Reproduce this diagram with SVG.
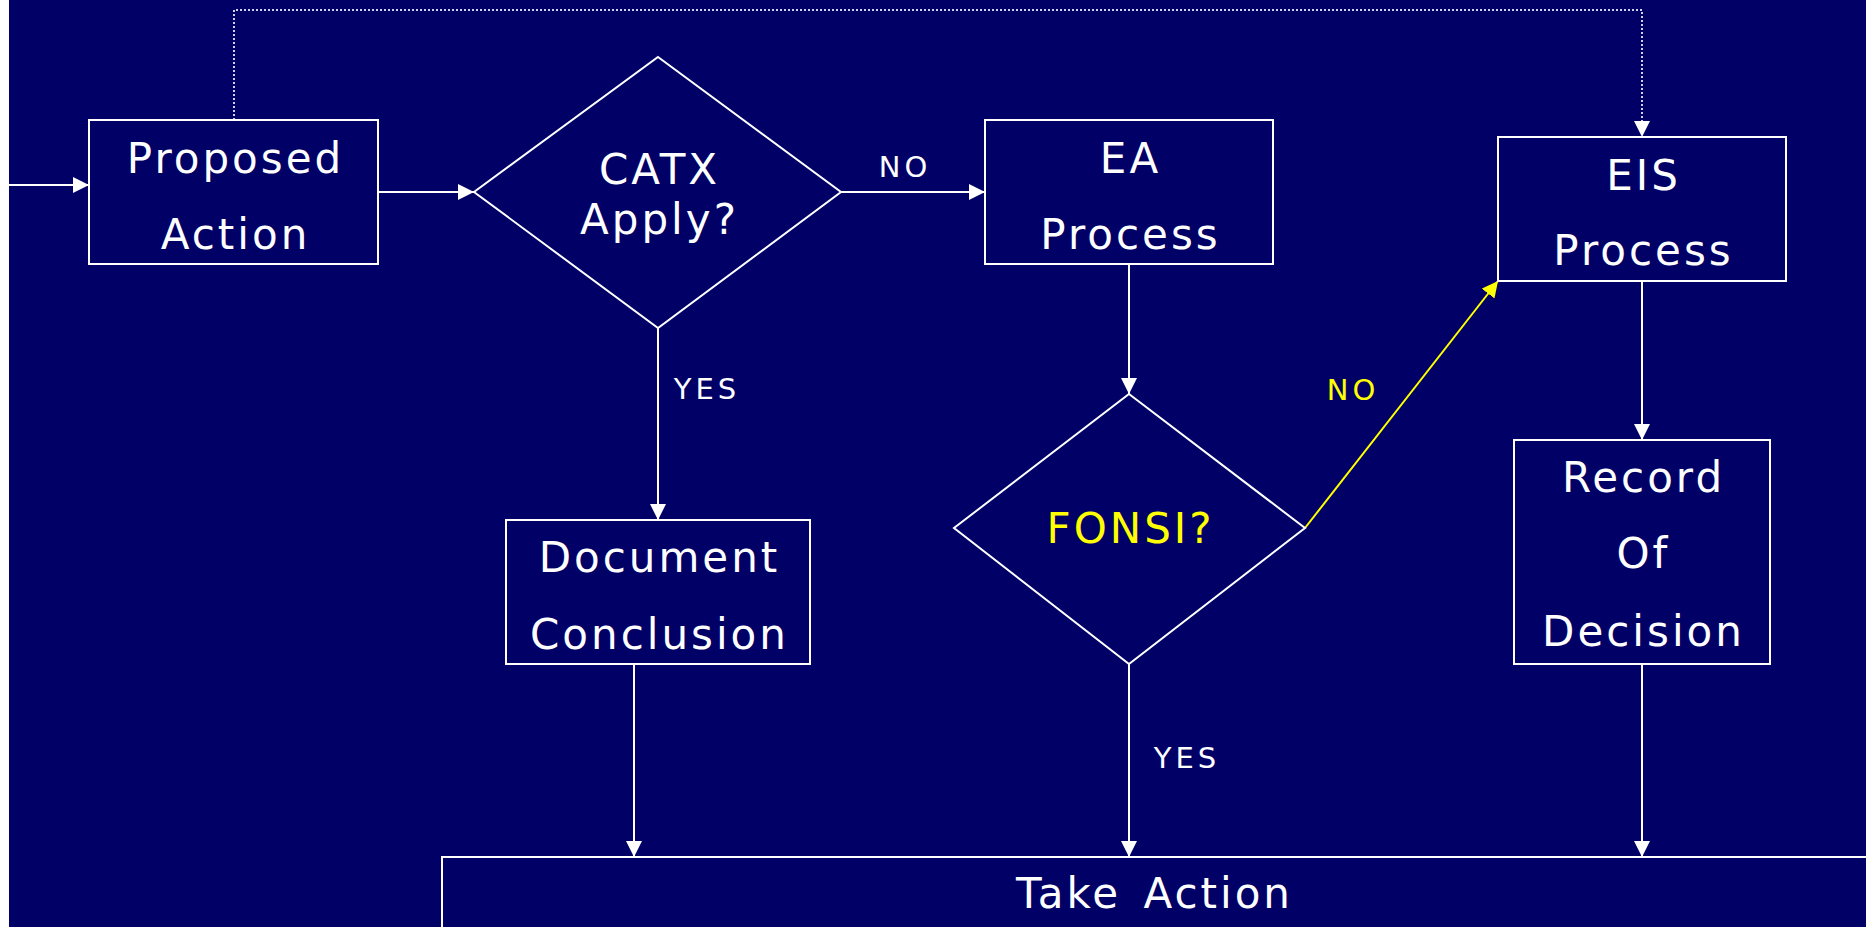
<svg xmlns="http://www.w3.org/2000/svg" width="1866" height="927" viewBox="0 0 1866 927">
<defs>
<style>
.box{fill:none;stroke:#fff;stroke-width:2}
.t{font-family:"DejaVu Sans",Verdana,sans-serif;font-size:42px;fill:#fff;text-anchor:middle;dominant-baseline:central;letter-spacing:3px;word-spacing:6px}
.lb{font-family:"DejaVu Sans",Verdana,sans-serif;font-size:29px;fill:#fff;text-anchor:middle;dominant-baseline:central;letter-spacing:4px}
.y{fill:#ffff00}
.c{fill:none;stroke:#fff;stroke-width:2}
</style>
<marker id="aw" markerUnits="userSpaceOnUse" markerWidth="18" markerHeight="16" refX="16" refY="8" orient="auto">
<path d="M0,0 L16,8 L0,16 Z" fill="#fff"/>
</marker>
<marker id="ay" markerUnits="userSpaceOnUse" markerWidth="18" markerHeight="16" refX="16" refY="8" orient="auto">
<path d="M0,0 L16,8 L0,16 Z" fill="#ffff00"/>
</marker>
</defs>
<rect x="0" y="0" width="1866" height="927" fill="#000066"/>
<rect x="0" y="0" width="9" height="927" fill="#fff"/>

<g id="connectors">
<path class="c" d="M9,185 L89,185" marker-end="url(#aw)"/>
<path class="c" d="M378,192 L474,192" marker-end="url(#aw)"/>
<path class="c" d="M841,192 L985,192" marker-end="url(#aw)"/>
<path class="c" d="M658,328 L658,520" marker-end="url(#aw)"/>
<path class="c" d="M1129,264 L1129,394" marker-end="url(#aw)"/>
<path fill="none" stroke="#ffff00" stroke-width="2" d="M1305,528 L1498,281" marker-end="url(#ay)"/>
<path class="c" d="M1642,281 L1642,440" marker-end="url(#aw)"/>
<path class="c" d="M634,664 L634,857" marker-end="url(#aw)"/>
<path class="c" d="M1129,664 L1129,857" marker-end="url(#aw)"/>
<path class="c" d="M1642,664 L1642,857" marker-end="url(#aw)"/>
<path fill="none" stroke="#d0d0e8" stroke-width="2" stroke-dasharray="2,2" d="M234,120 L234,10 L1642,10 L1642,137" marker-end="url(#aw)"/>
<text class="lb" x="905" y="167">NO</text>
<text class="lb" x="707" y="389">YES</text>
<text class="lb y" x="1353" y="390">NO</text>
<text class="lb" x="1187" y="758">YES</text>
</g>

<g id="proposed-action">
<rect class="box" x="89" y="120" width="289" height="144"/>
<text class="t" x="235.5" y="158">Proposed</text>
<text class="t" x="235.5" y="234">Action</text>
</g>
<g id="catx">
<path class="box" d="M658,57 L841,192 L658,328 L474,192 Z"/>
<text class="t" x="659.5" y="169">CATX</text>
<text class="t" x="659.5" y="219">Apply?</text>
</g>
<g id="ea-process">
<rect class="box" x="985" y="120" width="288" height="144"/>
<text class="t" x="1130.5" y="158">EA</text>
<text class="t" x="1130.5" y="234">Process</text>
</g>
<g id="eis-process">
<rect class="box" x="1498" y="137" width="288" height="144"/>
<text class="t" x="1643.5" y="175">EIS</text>
<text class="t" x="1643.5" y="250">Process</text>
</g>
<g id="fonsi">
<path class="box" d="M1129,394 L1305,528 L1129,664 L954,528 Z"/>
<text class="t y" x="1130.5" y="528">FONSI?</text>
</g>
<g id="document-conclusion">
<rect class="box" x="506" y="520" width="304" height="144"/>
<text class="t" x="659.5" y="557">Document</text>
<text class="t" x="659.5" y="634">Conclusion</text>
</g>
<g id="record-of-decision">
<rect class="box" x="1514" y="440" width="256" height="224"/>
<text class="t" x="1643.5" y="477">Record</text>
<text class="t" x="1643.5" y="553">Of</text>
<text class="t" x="1643.5" y="631">Decision</text>
</g>
<g id="take-action">
<rect class="box" x="442" y="857" width="1444" height="100"/>
<text class="t" x="1154.5" y="893">Take Action</text>
</g>
</svg>
